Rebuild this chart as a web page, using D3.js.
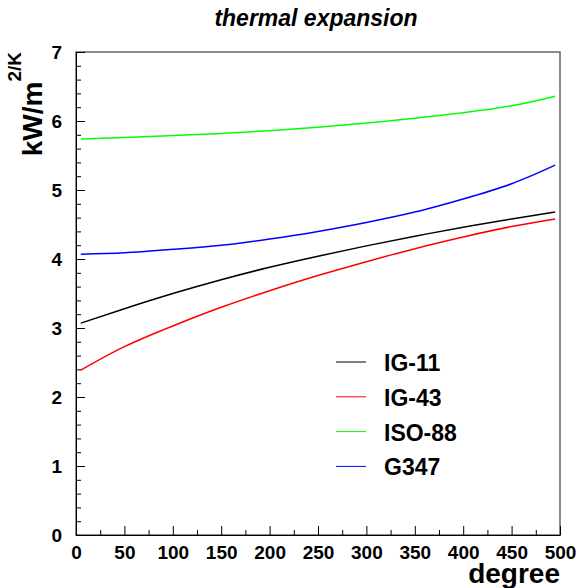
<!DOCTYPE html>
<html>
<head>
<meta charset="utf-8">
<script src="https://cdn.jsdelivr.net/npm/d3@7"></script>
<style>
  body { margin: 0; background: #fff; }
  svg { display: block; font-family: "Liberation Sans", Arial, sans-serif; font-weight: bold; }
</style>
</head>
<body>
<svg width="579" height="588"></svg>
<script>
// data
const degrees = [5, 50, 100, 150, 200, 250, 300, 350, 400, 450, 495];
const ig11 = [3.07, 3.28, 3.50, 3.70, 3.88, 4.04, 4.19, 4.33, 4.46, 4.58, 4.68];
const ig43 = [2.39, 2.73, 3.03, 3.30, 3.54, 3.76, 3.96, 4.15, 4.32, 4.47, 4.58];
const iso88 = [5.74, 5.76, 5.79, 5.82, 5.86, 5.91, 5.97, 6.04, 6.12, 6.22, 6.36];
const g347 = [4.07, 4.09, 4.14, 4.20, 4.29, 4.40, 4.53, 4.68, 4.87, 5.09, 5.36];
const seriesNames = ['IG-11', 'IG-43', 'ISO-88', 'G347'];
const seriesColors = ['#000000', '#ff0000', '#00ff00', '#0000ff'];
const xTicks = [0, 50, 100, 150, 200, 250, 300, 350, 400, 450, 500];
const yTicks = [0, 1, 2, 3, 4, 5, 6, 7];

const series = [ig11, ig43, iso88, g347].map((vals, i) => ({
  name: seriesNames[i],
  color: seriesColors[i],
  values: vals.map((v, j) => ({ x: degrees[j], y: v }))
}));

const svg = d3.select('svg');
const margin = { top: 52, right: 19, bottom: 53, left: 76 };
const width = +svg.attr('width');
const height = +svg.attr('height');
const innerWidth = width - margin.left - margin.right;
const innerHeight = height - margin.top - margin.bottom;

const g = svg.append('g').attr('transform', `translate(${margin.left},${margin.top})`);

const xScale = d3.scaleLinear().domain([0, 500]).range([0, innerWidth]);
const yScale = d3.scaleLinear().domain([0, 7]).range([innerHeight, 0]);

// frame
g.append('rect')
  .attr('width', innerWidth)
  .attr('height', innerHeight)
  .attr('fill', 'none')
  .attr('stroke', '#666')
  .attr('stroke-width', 1.5);

// minor ticks
const xMinor = d3.range(25, 500, 50);
const yMinor = d3.range(0, 7.001, 0.2).filter(v => Math.abs(v - Math.round(v)) > 0.01);

g.append('g')
  .attr('transform', `translate(0,${innerHeight})`)
  .call(d3.axisBottom(xScale).tickValues(xMinor).tickSize(-5).tickFormat(''))
  .call(s => s.select('.domain').remove())
  .call(s => s.selectAll('text').remove());

g.append('g')
  .call(d3.axisLeft(yScale).tickValues(yMinor).tickSize(-5).tickFormat(''))
  .call(s => s.select('.domain').remove())
  .call(s => s.selectAll('text').remove());

// major axes
const xAxisG = g.append('g')
  .attr('transform', `translate(0,${innerHeight})`)
  .call(d3.axisBottom(xScale).tickValues(xTicks).tickSizeInner(-9).tickSizeOuter(0).tickPadding(11).tickFormat(d3.format('d')));

const yAxisG = g.append('g')
  .call(d3.axisLeft(yScale).tickValues(yTicks).tickSizeInner(-9).tickSizeOuter(0).tickPadding(14).tickFormat(d3.format('d')));

[xAxisG, yAxisG].forEach(a => {
  a.attr('font-family', null).attr('font-size', 19);
  a.selectAll('text').attr('fill', '#000');
  a.selectAll('line').attr('stroke', '#000');
  a.select('.domain').attr('stroke', '#000');
});
yAxisG.selectAll('text').attr('dy', '0.36em');

// curves
const lineGen = d3.line()
  .x(d => xScale(d.x))
  .y(d => yScale(d.y))
  .curve(d3.curveNatural);

g.append('g').selectAll('path')
  .data(series)
  .join('path')
  .attr('d', d => lineGen(d.values))
  .attr('fill', 'none')
  .attr('stroke', d => d.color)
  .attr('stroke-width', 1.5);

// legend
const legend = svg.append('g').attr('transform', 'translate(336,362)');
const item = legend.selectAll('g')
  .data(series)
  .join('g')
  .attr('transform', (d, i) => `translate(0,${i * 34.8})`);
item.append('line')
  .attr('x1', 0).attr('x2', 30)
  .attr('stroke', d => d.color)
  .attr('stroke-width', 1);
item.append('text')
  .attr('x', 48)
  .attr('y', 9)
  .attr('font-size', 23)
  .text(d => d.name);

// titles
svg.append('text')
  .attr('x', 316)
  .attr('y', 26)
  .attr('text-anchor', 'middle')
  .attr('font-size', 23)
  .attr('font-style', 'italic')
  .text('thermal expansion');

svg.append('text')
  .attr('x', margin.left + innerWidth)
  .attr('y', 583)
  .attr('text-anchor', 'end')
  .attr('font-size', 28)
  .text('degree');

const yTitle = svg.append('text')
  .attr('transform', `translate(42,${margin.top}) rotate(-90)`)
  .attr('text-anchor', 'end')
  .attr('font-size', 28);
yTitle.append('tspan').text('kW/m');
yTitle.append('tspan').attr('font-size', 19).attr('dy', -21).text('2/K');
</script>
</body>
</html>
